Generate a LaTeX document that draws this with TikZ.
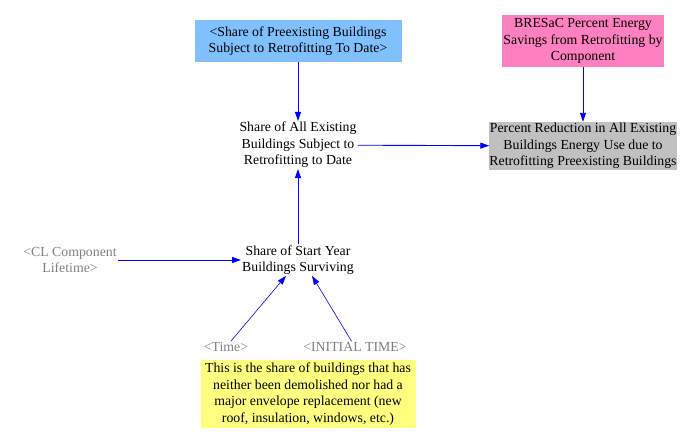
\documentclass[tikz,border=0pt]{standalone}
\usepackage{fontspec}
\setmainfont{Liberation Serif}
\usetikzlibrary{arrows.meta}
\definecolor{boxblue}{HTML}{80C0FF}
\definecolor{boxpink}{HTML}{FF80C0}
\definecolor{boxgray}{HTML}{C0C0C0}
\definecolor{boxyellow}{HTML}{FFFF80}
\definecolor{shadowtext}{HTML}{808080}
\begin{document}
\begin{tikzpicture}[x=1pt,y=-1pt,
  every node/.style={font=\fontsize{13.8}{16.5}\selectfont, align=center, inner sep=1pt},
  var/.style={},
  ghost/.style={text=shadowtext},
  link/.style={draw=blue, line width=0.9pt, -{Triangle[length=9pt,width=6pt]}},
  thinlink/.style={draw=blue, line width=0.6pt, -{Triangle[length=9pt,width=6pt]}}]
\useasboundingbox (0,0) rectangle (684,439);

\node[fill=boxblue, minimum width=207pt, minimum height=42pt] (preex) at (298,41) {<Share of Preexisting Buildings\\Subject to Retrofitting To Date>};
\node[fill=boxpink, minimum width=161pt, minimum height=52pt] (bresac) at (583,41) {BRESaC Percent Energy\\Savings from Retrofitting by\\Component};
\node[var] (allexist) at (298,145) {Share of All Existing\\Buildings Subject to\\Retrofitting to Date};
\node[fill=boxgray, minimum width=186pt, minimum height=48pt, inner sep=0pt] (reduction) at (583,146) {Percent Reduction in All Existing\\Buildings Energy Use due to\\Retrofitting Preexisting Buildings};
\node[var] (surviving) at (298,260) {Share of Start Year\\Buildings Surviving};
\node[ghost] (lifetime) at (70,260) {<CL Component\\Lifetime>};
\node[ghost] (time) at (226,347) {<Time>};
\node[ghost] (initial) at (355,347) {<INITIAL TIME>};
\node[fill=boxyellow, minimum width=215pt, minimum height=68pt] (note) at (308,394) {This is the share of buildings that has\\neither been demolished nor had a\\major envelope replacement (new\\roof, insulation, windows, etc.)};

\path[link] (preex) -- (allexist);
\path[link] (bresac) -- (reduction);
\path[link] (allexist) -- (reduction);
\path[link] (surviving) -- (allexist);
\path[link] (lifetime) -- (surviving);
\path[thinlink] (time) -- (surviving.south west -| 286,0);
\path[thinlink] (initial) -- (surviving.south east -| 312,0);
\end{tikzpicture}
\end{document}
